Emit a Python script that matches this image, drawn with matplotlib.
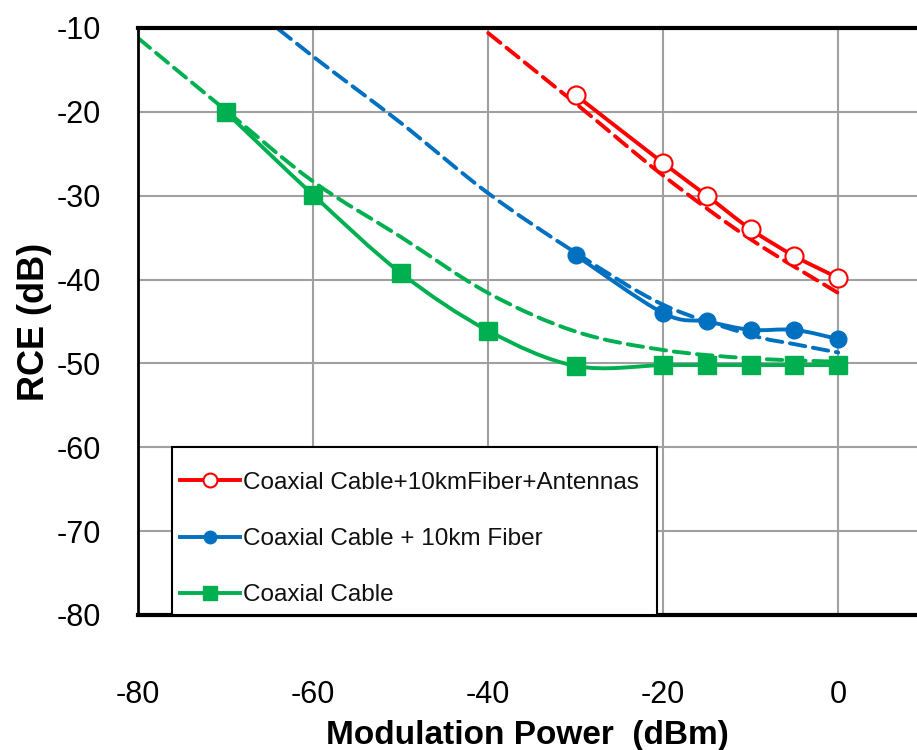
import matplotlib
matplotlib.use("Agg")
import matplotlib.pyplot as plt
from matplotlib.path import Path
from matplotlib.patches import PathPatch, Rectangle
from matplotlib.lines import Line2D

plt.rcParams['font.family'] = ['Liberation Sans', 'DejaVu Sans']
plt.rcParams['axes.unicode_minus'] = False

# measured points
x_meas = [-30, -20, -15, -10, -5, 0]
rce_antennas = [-18.0, -26.1, -30.0, -34.0, -37.2, -39.8]
rce_fiber = [-37.1, -44.0, -45.0, -46.0, -46.0, -47.1]

x_coax = [-70, -60, -50, -40, -30, -20, -15, -10, -5, 0]
rce_coax = [-20.0, -29.9, -39.2, -46.1, -50.3, -50.2, -50.2, -50.2, -50.2, -50.2]

# fitted (dashed) curves
x_fit_antennas = [-42, -40, -30, -20, -10, 0]
fit_antennas = [-8.8, -10.6, -19.0, -27.6, -35.2, -41.6]

x_fit_fiber = [-66, -60, -50, -40, -30, -20, -10, -5, 0]
fit_fiber = [-8.4, -13.4, -21.3, -29.7, -36.8, -43.0, -46.6, -47.7, -48.7]

x_fit_coax = [-80, -70, -60, -50, -40, -30, -20, -10, 0]
fit_coax = [-11.2, -19.8, -28.3, -34.9, -41.6, -46.2, -48.4, -49.4, -49.8]

labels = ["Coaxial Cable+10kmFiber+Antennas", "Coaxial Cable + 10km Fiber", "Coaxial Cable"]
red = "#FF0000"
blue = "#0070C0"
green = "#00B050"


def smooth(xs, ys):
    # excel-like smoothed line: cubic bezier through the points
    pts = list(zip(xs, ys))
    verts = [pts[0]]
    codes = [Path.MOVETO]
    n = len(pts)
    for i in range(n - 1):
        p0 = pts[i - 1] if i > 0 else pts[i]
        p1 = pts[i]
        p2 = pts[i + 1]
        p3 = pts[i + 2] if i + 2 < n else pts[i + 1]
        c1 = (p1[0] + (p2[0] - p0[0]) / 6, p1[1] + (p2[1] - p0[1]) / 6)
        c2 = (p2[0] - (p3[0] - p1[0]) / 6, p2[1] - (p3[1] - p1[1]) / 6)
        verts += [c1, c2, p2]
        codes += [Path.CURVE4] * 3
    return Path(verts, codes)


fig = plt.figure(figsize=(9.17, 7.5), dpi=100)
ax = fig.add_axes([0.1505, 0.18, 0.8495, 0.7827])

dash = (0, (4.0, 2.0))
for xs, ys, c in [(x_fit_coax, fit_coax, green), (x_fit_fiber, fit_fiber, blue),
                  (x_fit_antennas, fit_antennas, red)]:
    ax.add_patch(PathPatch(smooth(xs, ys), fill=False, edgecolor=c, lw=2.8,
                           linestyle=dash, capstyle='round', zorder=2))

for xs, ys, c in [(x_coax, rce_coax, green), (x_meas, rce_fiber, blue),
                  (x_meas, rce_antennas, red)]:
    ax.add_patch(PathPatch(smooth(xs, ys), fill=False, edgecolor=c, lw=2.8, zorder=3))

ax.plot(x_coax, rce_coax, ls='none', marker='s', ms=13, color=green, zorder=4)
ax.plot(x_meas, rce_fiber, ls='none', marker='o', ms=12, color=blue, zorder=4)
ax.plot(x_meas, rce_antennas, ls='none', marker='o', ms=13, mfc='white',
        mec=red, mew=1.5, zorder=4)

ax.set_xlim(-80, 9)
ax.set_ylim(-80, -10)
ax.set_xticks([-80, -60, -40, -20, 0])
ax.set_yticks(range(-80, -9, 10))
ax.grid(True, color="#A0A0A0", lw=1.5)
ax.set_axisbelow(True)
ax.tick_params(length=0, labelsize=22)
ax.tick_params(axis='x', pad=47)
ax.tick_params(axis='y', pad=27)
ax.spines['right'].set_visible(False)
ax.spines['top'].set_linewidth(3)
ax.spines['bottom'].set_linewidth(3)
ax.spines['left'].set_linewidth(2)

ax.set_xlabel("Modulation Power  (dBm)", fontsize=24, fontweight='bold', labelpad=7)
ax.set_ylabel("RCE (dB)", fontsize=26, fontweight='bold', labelpad=3)

# legend box (white, black border) with frameless legend on top
ax.add_patch(Rectangle((0.0436, 0.0), 0.6226, 0.286, transform=ax.transAxes,
                       facecolor='white', edgecolor='black', lw=1.5, zorder=5))

handles = [
    Line2D([], [], color=red, lw=2.8, marker='o', ms=10, mfc='white', mec=red, mew=1.5),
    Line2D([], [], color=blue, lw=2.8, marker='o', ms=9),
    Line2D([], [], color=green, lw=2.8, marker='s', ms=10),
]
leg = ax.legend(handles, labels, loc='upper left', bbox_to_anchor=(0.054, 0.244),
                fontsize=17.5, frameon=False, borderpad=0,
                labelspacing=1.41, handlelength=2.47, handletextpad=0.12,
                borderaxespad=0)
leg.set_zorder(6)
for t in leg.get_texts():
    t.set_color("#111111")

fig.savefig("out.png", dpi=100)
